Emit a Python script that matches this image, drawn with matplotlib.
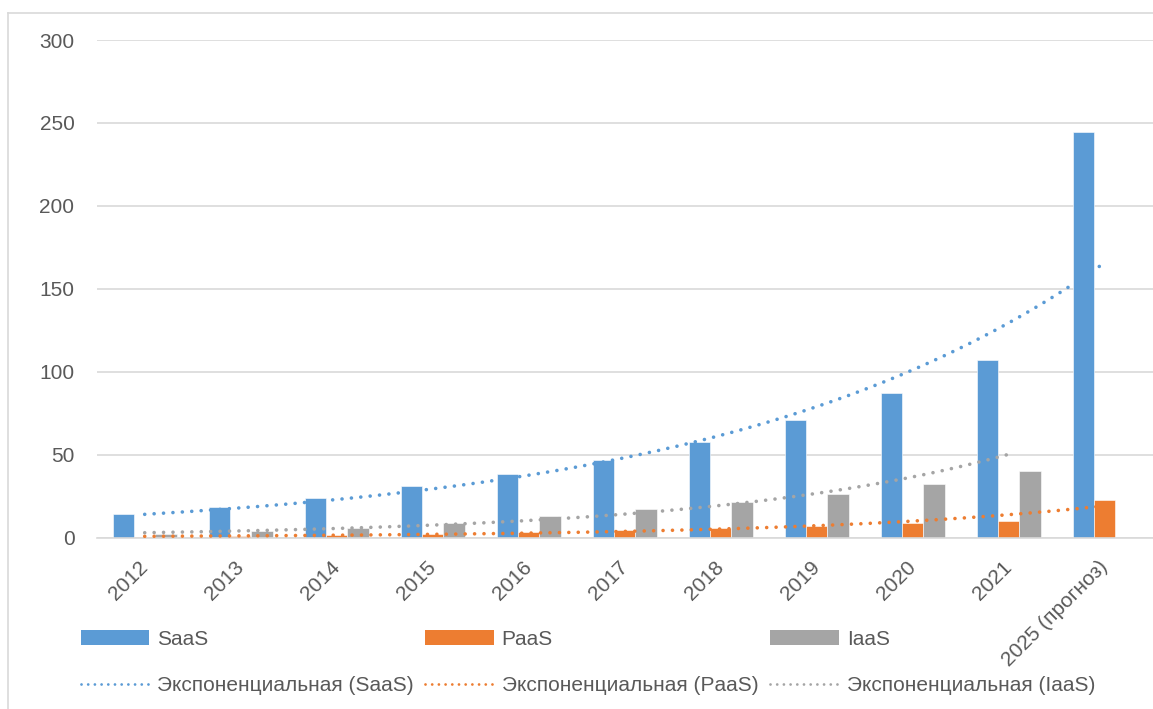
import numpy as np
import matplotlib
matplotlib.use("Agg")
import matplotlib.pyplot as plt
from matplotlib.lines import Line2D
from matplotlib.patches import Patch

categories = ["2012", "2013", "2014", "2015", "2016", "2017", "2018", "2019",
              "2020", "2021", "2025 (прогноз)"]
saas = [14.2, 18.4, 24.0, 30.9, 38.1, 46.7, 57.4, 70.9, 87.0, 107.1, 244.6]
paas = [0.5, 1.0, 1.5, 2.2, 3.2, 4.5, 5.5, 6.9, 8.5, 9.9, 22.4]
iaas = [2.0, 3.7, 6.0, 9.0, 12.8, 17.3, 21.3, 26.1, 32.5, 39.8, np.nan]
series_names = ["SaaS", "PaaS", "IaaS"]
trend_label = "Экспоненциальная ({})"

colors = ["#5B9BD5", "#ED7D31", "#A5A5A5"]
text_color = "#595959"
grid_color = "#D9D9D9"

plt.rcParams['font.family'] = ['Liberation Sans', 'DejaVu Sans']
FS = 15

W, H = 1153, 709
fig = plt.figure(figsize=(W / 100, H / 100), dpi=100)
ax_left, ax_right, ax_top, ax_bot = 96.7, 1152.7, 40.0, 537.5
ax = fig.add_axes([ax_left / W, 1 - ax_bot / H, (ax_right - ax_left) / W, (ax_bot - ax_top) / H])

n = len(categories)
x = np.arange(n)
bw = 1 / 4.5
data = [saas, paas, iaas]
for i, (vals, c) in enumerate(zip(data, colors)):
    ax.bar(x + (i - 1) * bw, vals, width=bw, color=c, edgecolor="#ffffff", linewidth=0.4, zorder=2)

# Exponential trendlines (Excel style: fit ln(y) vs x = 1..k)
dot_style = (0, (0.01, 2.6))
for vals, c in zip(data, colors):
    v = np.array(vals, dtype=float)
    xs = np.arange(1, n + 1)
    m = ~np.isnan(v)
    k = xs[m].max()
    b, lna = np.polyfit(xs[m], np.log(v[m]), 1)
    xx = np.linspace(1, k, 300)
    yy = np.exp(lna + b * xx)
    ax.plot(xx - 1, yy, color=c, linewidth=2.6, linestyle=dot_style,
            dash_capstyle="round", zorder=3)

ax.set_xlim(-0.5, n - 0.5)
ax.set_ylim(0, 300)
ax.set_yticks(np.arange(0, 301, 50))
ax.yaxis.grid(True, color=grid_color, linewidth=1.2, zorder=0)
ax.set_axisbelow(True)
for s in ["top", "right", "left"]:
    ax.spines[s].set_visible(False)
ax.spines["bottom"].set_color(grid_color)
ax.spines["bottom"].set_linewidth(1.2)
ax.tick_params(axis="y", length=0, pad=16, labelsize=FS, labelcolor=text_color)
ax.set_xticks(x)
ax.set_xticklabels(categories)
ax.tick_params(axis="x", length=0, pad=19, labelsize=FS, labelcolor=text_color)
for lab in ax.get_xticklabels():
    lab.set_rotation(45)
    lab.set_ha("right")
    lab.set_va("center")
    lab.set_rotation_mode("anchor")

# Legend: three columns placed at fixed positions
col_x = [80.7, 425.0, 770.0]
for name, c, cx in zip(series_names, colors, col_x):
    handles = [Patch(facecolor=c, edgecolor="none"),
               Line2D([0], [0], color=c, linewidth=2.0, linestyle=(0, (0.01, 2.4)), dash_capstyle="round")]
    labels = [name, trend_label.format(name)]
    leg = fig.legend(handles, labels, loc="upper left", bbox_to_anchor=(cx / W, 1 - 630 / H),
                     frameon=False, borderpad=0, borderaxespad=0, fontsize=FS,
                     handlelength=3.3, handleheight=0.7, handletextpad=0.38, labelspacing=1.3)
    for t in leg.get_texts():
        t.set_color(text_color)

# Chart area border (left and top visible)
fig.add_artist(Line2D([8 / W, 8 / W], [0, 1 - 13 / H], color=grid_color, linewidth=1.2))
fig.add_artist(Line2D([8 / W, 1], [1 - 13 / H, 1 - 13 / H], color=grid_color, linewidth=1.2))

fig.savefig("out.png", dpi=100)
